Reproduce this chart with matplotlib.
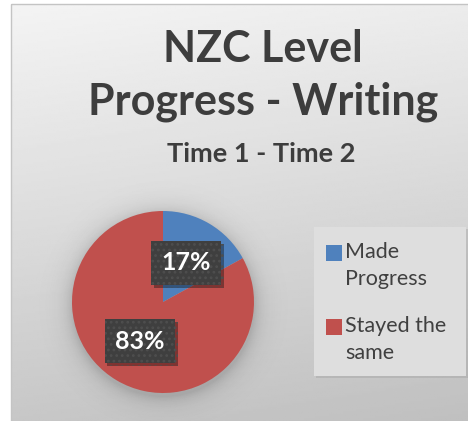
import numpy as np
import matplotlib
matplotlib.use("Agg")
import matplotlib.pyplot as plt
from matplotlib.patches import Rectangle
import matplotlib.patheffects as pe

# ── data ──────────────────────────────────────────────────────────────────────
categories = ["Made Progress", "Stayed the same"]
legend_labels = ["Made\nProgress", "Stayed the\nsame"]
values = [17, 83]
colors = ["#4F81BD", "#C0504D"]
title_lines = ["NZC Level", "Progress - Writing"]
subtitle = "Time 1 - Time 2"

W, H = 468, 421
plt.rcParams["font.family"] = ["Lato", "DejaVu Sans"]
plt.rcParams["hatch.linewidth"] = 1.2

fig = plt.figure(figsize=(W / 100, H / 100), dpi=100, facecolor="white")

# background axes in pixel coordinates (origin top-left)
bg = fig.add_axes([0, 0, 1, 1])
bg.set_xlim(0, W)
bg.set_ylim(H, 0)
bg.axis("off")

# gradient chart area
yy, xx = np.mgrid[0:1:200j, 0:1:200j]
grad = 0.955 - 0.175 * yy - 0.03 * xx
bg.imshow(grad, cmap="gray", vmin=0, vmax=1, extent=(11, W + 2, H + 2, 4),
          aspect="auto", zorder=0)
bg.add_patch(Rectangle((11, 4), W, H, fill=False, ec="#c4c4c4", lw=1.0, zorder=1))

# soft shadow around the pie
cx, cy, R = 163, 302, 91
sy, sx = np.mgrid[cy - 130:cy + 130, cx - 130:cx + 130]
d = np.hypot(sx - cx, sy - (cy + 3))
sh = np.zeros(d.shape + (4,))
sh[..., 3] = np.clip(0.16 * np.exp(-np.clip(d - R, 0, None) / 9.0), 0, 1)
bg.imshow(sh, extent=(cx - 130, cx + 130, cy + 130, cy - 130), aspect="auto",
          zorder=1, interpolation="bilinear")

# title
bg.text(263, 62, title_lines[0], ha="center", va="baseline", fontsize=31,
        fontweight="bold", color="#3d3d3d", zorder=3)
bg.text(263, 115, title_lines[1], ha="center", va="baseline", fontsize=31,
        fontweight="bold", color="#3d3d3d", zorder=3)
bg.text(261, 162, subtitle, ha="center", va="baseline", fontsize=19.5,
        fontweight="bold", color="#3d3d3d", zorder=3)

# ── pie ───────────────────────────────────────────────────────────────────────
ax = fig.add_axes([(cx - R) / W, (H - cy - R) / H, 2 * R / W, 2 * R / H])
wedges, _, autotexts = ax.pie(values, colors=colors, startangle=90,
                              counterclock=False, autopct="%1.0f%%",
                              pctdistance=0.5, radius=1,
                              wedgeprops=dict(linewidth=0))
ax.set_xlim(-1, 1)
ax.set_ylim(-1, 1)
ax.axis("off")

for t in autotexts:
    t.set_color("white")
    t.set_fontsize(18)
    t.set_fontweight("bold")
    t.set_bbox(dict(boxstyle="square,pad=0.42", fc="#3f3f3f", ec="#4e4e4e",
                    lw=0, hatch="..."))
    t.get_bbox_patch().set_path_effects([
        pe.SimplePatchShadow(offset=(2, -2), shadow_rgbFace="black", alpha=0.35),
        pe.Normal()])

# ── legend (drawn in pixel coords) ────────────────────────────────────────────
bg.add_patch(Rectangle((316, 229), 152, 149, fc="#9a9a9a", ec="none",
                       alpha=0.35, zorder=1))
bg.add_patch(Rectangle((314, 227), 152, 149, fc="#dedede", ec="none", zorder=2))
entry_y = [245, 319]
for lab, col, y0 in zip(legend_labels, colors, entry_y):
    bg.add_patch(Rectangle((326, y0), 16, 16, fc=col, ec="none", zorder=3))
    for k, line in enumerate(lab.split("\n")):
        bg.text(345, y0 + 13 + 27 * k, line, ha="left", va="baseline",
                fontsize=15.5, color="#404040", zorder=3)

fig.savefig("out.png", dpi=100, facecolor="white")
